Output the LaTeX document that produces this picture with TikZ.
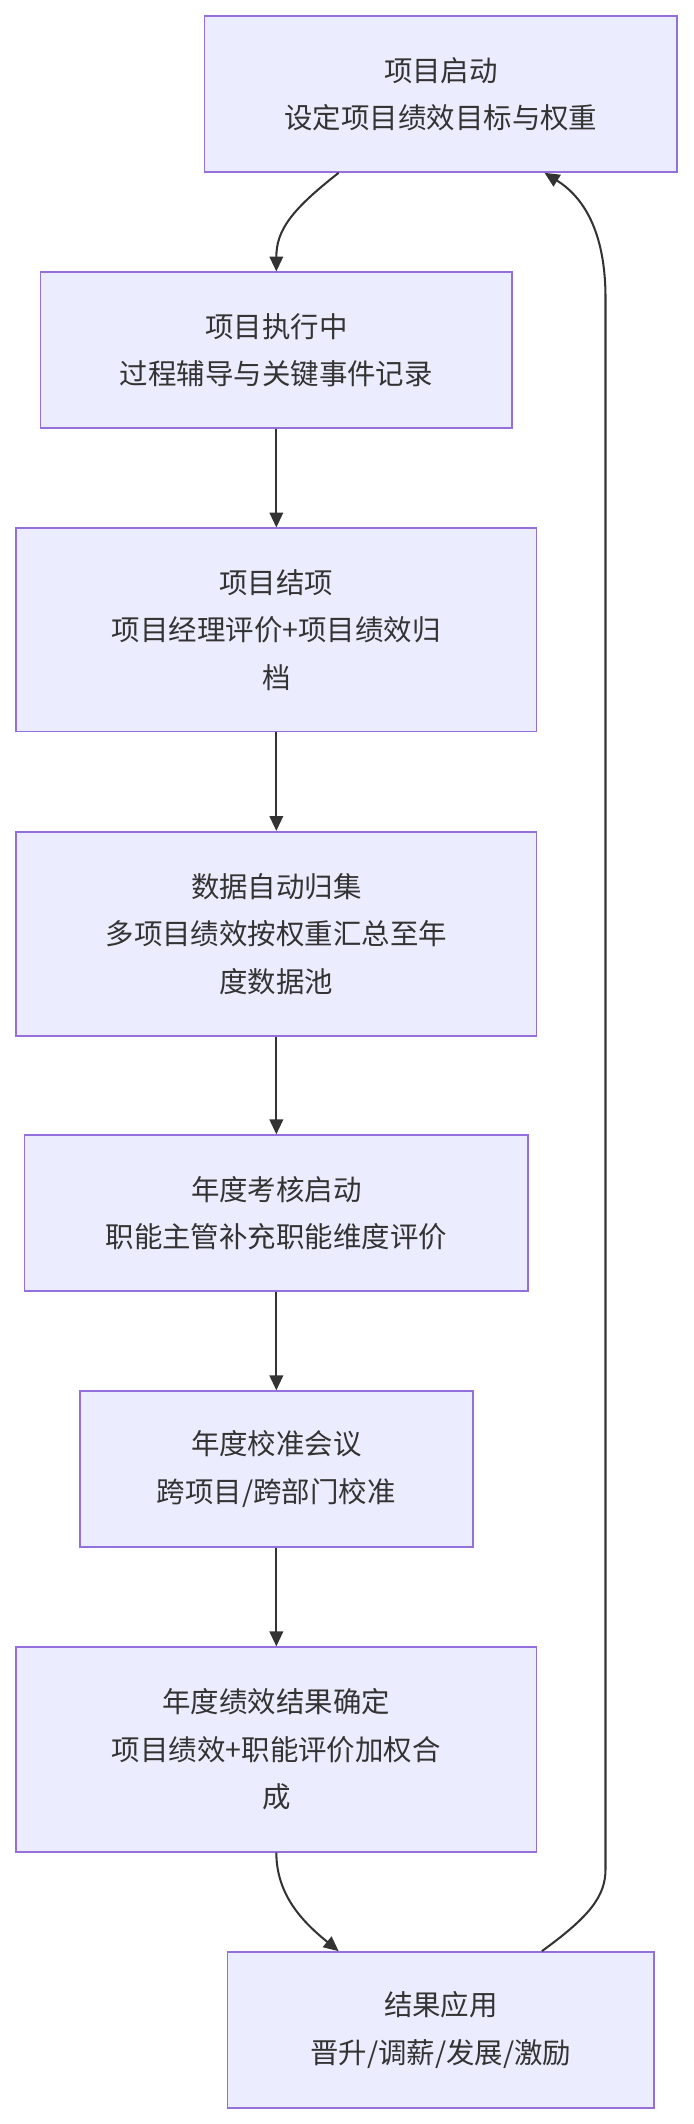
\documentclass[tikz,border=0pt]{standalone}
\usepackage{fontspec}
\setmainfont{Noto Sans CJK SC}
\usetikzlibrary{arrows.meta}
\definecolor{bfill}{HTML}{ECECFF}
\definecolor{bline}{HTML}{9370DB}
\definecolor{aline}{HTML}{333333}
\begin{document}
\begin{tikzpicture}[x=1pt,y=1pt,
  box/.style={draw=bline,fill=bfill,line width=1.2pt,align=center,inner sep=0pt,
    font=\fontsize{21}{35}\selectfont,text=black!80},
  arr/.style={draw=aline,line width=1.5pt,-{Triangle[length=11pt,width=10pt]}}]
\useasboundingbox (0,0) rectangle (512,-1568);
\node[box,minimum width=349,minimum height=115] (n1) at (325.5,-69.5) {项目启动\\设定项目绩效目标与权重};
\node[box,minimum width=348,minimum height=115] (n2) at (204,-258.5) {项目执行中\\过程辅导与关键事件记录};
\node[box,minimum width=384,minimum height=150] (n3) at (204,-465) {项目结项\\项目经理评价+项目绩效归\\档};
\node[box,minimum width=384,minimum height=151] (n4) at (204,-689.5) {数据自动归集\\多项目绩效按权重汇总至年\\度数据池};
\node[box,minimum width=372,minimum height=115] (n5) at (204,-895.5) {年度考核启动\\职能主管补充职能维度评价};
\node[box,minimum width=290,minimum height=115] (n6) at (204,-1084.5) {年度校准会议\\跨项目/跨部门校准};
\node[box,minimum width=384,minimum height=151] (n7) at (204,-1291.5) {年度绩效结果确定\\项目绩效+职能评价加权合\\成};
\node[box,minimum width=315,minimum height=115] (n8) at (325.5,-1498.5) {结果应用\\晋升/调薪/发展/激励};
\coordinate (r1) at (447,-1380);
\coordinate (r2) at (447,-220);
\draw[arr] ([xshift=-75.5pt]n1.south) .. controls (215,-155) and (204,-170) .. (n2.north);
\draw[arr] (n2) -- (n3);
\draw[arr] (n3) -- (n4);
\draw[arr] (n4) -- (n5);
\draw[arr] (n5) -- (n6);
\draw[arr] (n6) -- (n7);
\draw[arr] (n7.south) .. controls (204,-1400) and (225,-1420) .. ([xshift=-75.5pt]n8.north);
\draw[arr] ([xshift=74.5pt]n8.north) .. controls (435,-1415) and (447,-1400) .. (r1) -- (r2) .. controls (447,-170) and (430,-145) .. ([xshift=76.5pt]n1.south);
\end{tikzpicture}
\end{document}
